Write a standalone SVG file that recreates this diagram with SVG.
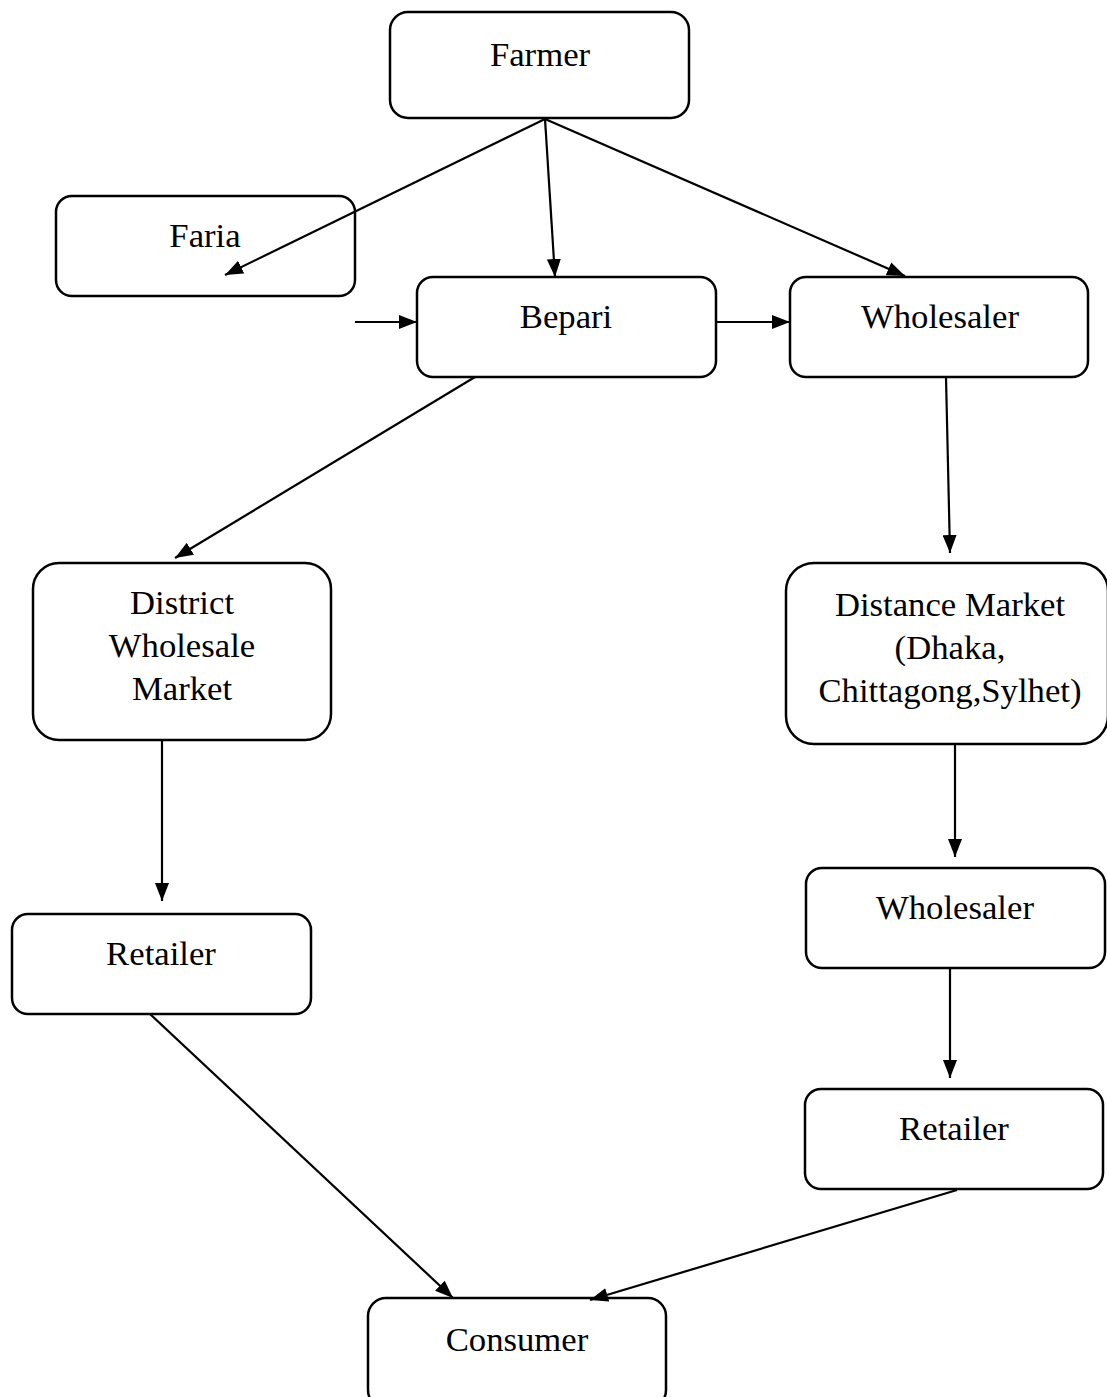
<svg xmlns="http://www.w3.org/2000/svg" width="1107" height="1397" viewBox="0 0 1107 1397">
<style>
.box{fill:#fff;stroke:#000;stroke-width:2.5}
.t{font-family:"Liberation Serif","Times New Roman",serif;font-size:34.7px;text-anchor:middle;fill:#000}
.c{stroke:#000;stroke-width:2.2;fill:none;marker-end:url(#ah)}
</style>
<defs>
<marker id="ah" viewBox="0 0 18 14" refX="18" refY="7" markerWidth="18" markerHeight="14" markerUnits="userSpaceOnUse" orient="auto" preserveAspectRatio="none">
<path d="M0,0 L18,7 L0,14 z" fill="#000"/>
</marker>
</defs>
<rect width="1107" height="1397" fill="#fff"/>
<g id="farmer"><rect class="box" x="390" y="12" width="299" height="106" rx="18"/><text class="t" x="540" y="66">Farmer</text></g>
<g id="faria"><rect class="box" x="56" y="196" width="299" height="100" rx="16"/><text class="t" x="205" y="247">Faria</text></g>
<g id="bepari"><rect class="box" x="417" y="277" width="299" height="100" rx="16"/><text class="t" x="566" y="328">Bepari</text></g>
<g id="wholesaler1"><rect class="box" x="790" y="277" width="298" height="100" rx="16"/><text class="t" x="940" y="328">Wholesaler</text></g>
<g id="district"><rect class="box" x="33" y="563" width="298" height="177" rx="26"/><text class="t" x="182" y="614">District</text><text class="t" x="182" y="657">Wholesale</text><text class="t" x="182" y="700">Market</text></g>
<g id="distance"><rect class="box" x="786" y="563" width="322" height="181" rx="28"/><text class="t" x="950" y="616">Distance Market</text><text class="t" x="950" y="659">(Dhaka,</text><text class="t" x="950" y="702">Chittagong,Sylhet)</text></g>
<g id="wholesaler2"><rect class="box" x="806" y="868" width="299" height="100" rx="16"/><text class="t" x="955" y="919">Wholesaler</text></g>
<g id="retailer1"><rect class="box" x="12" y="914" width="299" height="100" rx="16"/><text class="t" x="161" y="965">Retailer</text></g>
<g id="retailer2"><rect class="box" x="805" y="1089" width="298" height="100" rx="16"/><text class="t" x="954" y="1140">Retailer</text></g>
<g id="consumer"><rect class="box" x="368" y="1298" width="298" height="110" rx="18"/><text class="t" x="517" y="1351">Consumer</text></g>
<g id="connectors">
<line class="c" x1="545" y1="119" x2="225" y2="275"/>
<line class="c" x1="545" y1="119" x2="555" y2="277"/>
<line class="c" x1="545" y1="119" x2="905" y2="276"/>
<line class="c" x1="355" y1="322" x2="417" y2="322"/>
<line class="c" x1="716" y1="322" x2="790" y2="322"/>
<line class="c" x1="475" y1="377" x2="175" y2="558"/>
<line class="c" x1="946" y1="377" x2="950" y2="553"/>
<line class="c" x1="955" y1="744" x2="955" y2="857"/>
<line class="c" x1="162" y1="740" x2="162" y2="901"/>
<line class="c" x1="950" y1="968" x2="950" y2="1078"/>
<line class="c" x1="150" y1="1014" x2="453" y2="1298"/>
<line class="c" x1="957" y1="1190" x2="590" y2="1300"/>
</g>
</svg>
